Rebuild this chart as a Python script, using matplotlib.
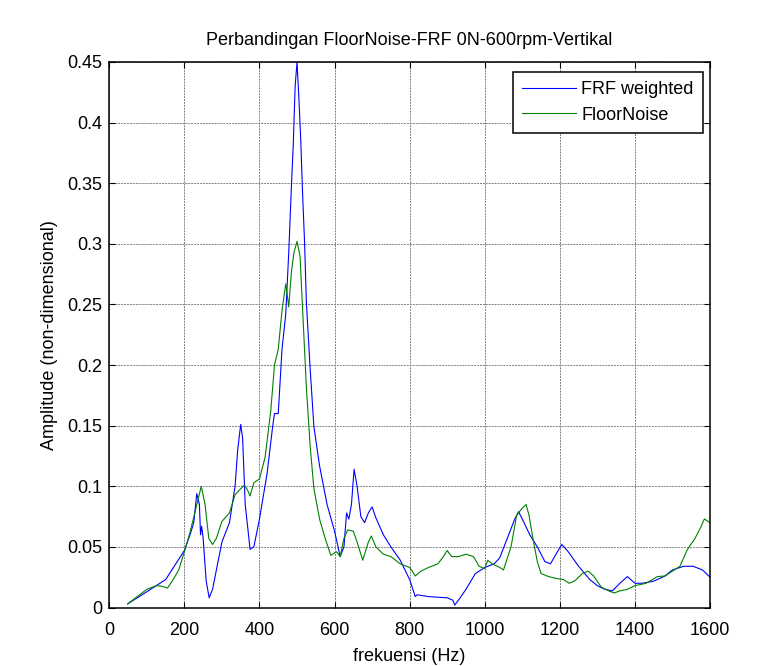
import numpy as np
import matplotlib
matplotlib.use("Agg")
import matplotlib.pyplot as plt

plt.rcParams['font.family'] = ['Liberation Sans', 'DejaVu Sans']

# FRF weighted (blue)
frf_f = [49, 100, 150, 200, 215, 225, 233, 240, 243, 246, 250, 258, 266, 275, 300, 320, 335, 342,
         350, 355, 362, 375, 385, 400, 420, 435, 440, 450, 460, 470, 478, 485, 490, 495, 500, 505,
         510, 515, 520, 525, 535, 545, 560, 580, 600, 615, 625, 632, 638, 645, 652, 660, 670, 680,
         690, 700, 710, 730, 750, 775, 800, 815, 820, 850, 900, 915, 920, 930, 950, 975, 1000, 1025,
         1040, 1060, 1080, 1090, 1100, 1120, 1140, 1160, 1175, 1190, 1205, 1220, 1250, 1280, 1300,
         1320, 1340, 1360, 1380, 1400, 1420, 1450, 1480, 1500, 1530, 1555, 1580, 1600]
frf_a = [0.003, 0.013, 0.023, 0.047, 0.060, 0.070, 0.094, 0.085, 0.060, 0.067, 0.057, 0.022, 0.008,
         0.015, 0.054, 0.070, 0.100, 0.130, 0.151, 0.140, 0.085, 0.048, 0.050, 0.073, 0.110, 0.149,
         0.160, 0.160, 0.213, 0.242, 0.293, 0.347, 0.382, 0.430, 0.450, 0.420, 0.385, 0.340, 0.302,
         0.251, 0.197, 0.149, 0.117, 0.085, 0.063, 0.042, 0.050, 0.078, 0.073, 0.085, 0.114, 0.100,
         0.075, 0.070, 0.078, 0.083, 0.074, 0.060, 0.050, 0.039, 0.023, 0.009, 0.0105, 0.009, 0.008,
         0.006, 0.002, 0.006, 0.015, 0.028, 0.033, 0.036, 0.041, 0.057, 0.073, 0.079, 0.073, 0.060,
         0.050, 0.038, 0.036, 0.044, 0.052, 0.047, 0.034, 0.023, 0.018, 0.015, 0.0137, 0.020, 0.0255,
         0.020, 0.020, 0.0217, 0.026, 0.031, 0.034, 0.034, 0.031, 0.025]

# FloorNoise (green)
fn_f = [49, 100, 125, 140, 155, 170, 185, 200, 215, 230, 245, 255, 265, 275, 285, 300, 320, 335,
        350, 360, 368, 375, 385, 400, 415, 430, 440, 450, 460, 470, 478, 485, 492, 500, 508, 515,
        525, 535, 545, 560, 575, 590, 605, 615, 625, 635, 650, 660, 675, 690, 698, 710, 730, 750,
        775, 800, 805, 815, 830, 850, 875, 890, 900, 912, 930, 950, 970, 985, 1000, 1008, 1020,
        1040, 1050, 1070, 1085, 1100, 1110, 1118, 1130, 1140, 1150, 1170, 1190, 1210, 1225, 1240,
        1260, 1275, 1290, 1310, 1330, 1345, 1360, 1380, 1400, 1430, 1460, 1480, 1500, 1520, 1540,
        1560, 1575, 1585, 1600]
fn_a = [0.003, 0.015, 0.018, 0.0175, 0.016, 0.023, 0.031, 0.046, 0.062, 0.081, 0.100, 0.085, 0.057,
        0.052, 0.057, 0.071, 0.078, 0.093, 0.098, 0.101, 0.097, 0.092, 0.103, 0.106, 0.124, 0.162,
        0.200, 0.213, 0.245, 0.267, 0.248, 0.277, 0.293, 0.302, 0.290, 0.245, 0.181, 0.133, 0.098,
        0.073, 0.057, 0.043, 0.046, 0.042, 0.057, 0.064, 0.063, 0.054, 0.039, 0.054, 0.059, 0.050,
        0.044, 0.042, 0.036, 0.033, 0.031, 0.026, 0.030, 0.033, 0.036, 0.042, 0.047, 0.042, 0.042,
        0.044, 0.042, 0.034, 0.032, 0.039, 0.036, 0.033, 0.031, 0.050, 0.076, 0.082, 0.085, 0.076,
        0.054, 0.038, 0.028, 0.0255, 0.024, 0.023, 0.020, 0.022, 0.028, 0.030, 0.026, 0.017, 0.0137,
        0.012, 0.0137, 0.015, 0.018, 0.020, 0.0255, 0.026, 0.030, 0.034, 0.048, 0.057, 0.066, 0.073,
        0.070]

x_ticks = [0, 200, 400, 600, 800, 1000, 1200, 1400, 1600]
y_ticks = [0, 0.05, 0.1, 0.15, 0.2, 0.25, 0.3, 0.35, 0.4, 0.45]
y_tick_labels = ['0', '0.05', '0.1', '0.15', '0.2', '0.25', '0.3', '0.35', '0.4', '0.45']

W, H = 768, 666
L, R, T, B = 109.3, 710.0, 62.0, 607.5
fig = plt.figure(figsize=(W/100, H/100), dpi=100)
ax = fig.add_axes([L/W, 1 - B/H, (R-L)/W, (B-T)/H])

ax.plot(frf_f, frf_a, color='#0000ff', lw=0.8, label='FRF weighted')
ax.plot(fn_f, fn_a, color='#008000', lw=0.8, label='FloorNoise')

ax.set_xlim(0, 1600)
ax.set_ylim(0, 0.45)
ax.set_xticks(x_ticks)
ax.set_xticklabels([str(v) for v in x_ticks])
ax.set_yticks(y_ticks)
ax.set_yticklabels(y_tick_labels)
ax.tick_params(direction='in', top=True, right=True, length=4, width=0.8, labelsize=13)
ax.tick_params(axis='x', pad=10.5)
ax.tick_params(axis='y', pad=5)
ax.grid(True, color='#808080', linestyle=(0, (2, 1)), linewidth=0.7)
for s in ax.spines.values():
    s.set_linewidth(1.1)

ax.set_title('Perbandingan FloorNoise-FRF 0N-600rpm-Vertikal', fontsize=13, pad=12)
ax.set_xlabel('frekuensi (Hz)', fontsize=13, labelpad=6.5)
ax.set_ylabel('Amplitude (non-dimensional)', fontsize=13, labelpad=6.5)

leg = ax.legend(loc='upper right', bbox_to_anchor=(0.988, 0.981), fontsize=13, fancybox=False,
                framealpha=1, edgecolor='black', borderaxespad=0, handlelength=3.0,
                handletextpad=0.3, borderpad=0.5, labelspacing=0.45)
leg.get_frame().set_linewidth(1.1)

fig.savefig('out.png', dpi=100)
